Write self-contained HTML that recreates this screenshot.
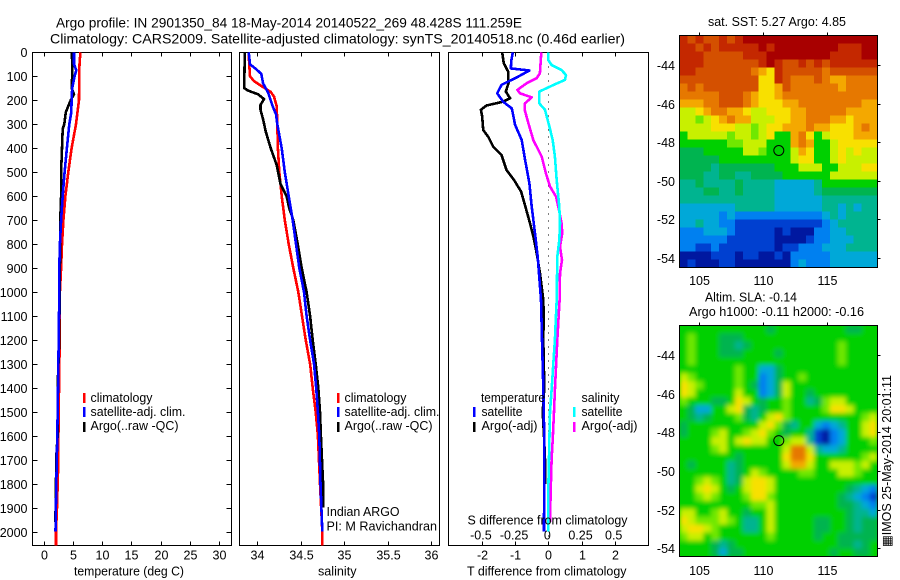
<!DOCTYPE html>
<html><head><meta charset="utf-8"><title>Argo profile</title>
<style>
html,body{margin:0;padding:0;background:#fff}
svg{display:block}
text{font-family:"Liberation Sans",sans-serif;font-size:12.5px;fill:#000}
</style></head><body>
<svg id="chart" width="900" height="580" viewBox="0 0 900 580" xmlns="http://www.w3.org/2000/svg">
<defs>
<filter id="smooth" x="-5%" y="-5%" width="110%" height="110%"><feGaussianBlur stdDeviation="2.5"/></filter>
<clipPath id="clip-sla"><rect x="679.5" y="325.5" width="198" height="231"/></clipPath>
<clipPath id="clip-sst"><rect x="679.5" y="35.5" width="198" height="232"/></clipPath>
</defs>
<rect width="900" height="580" fill="#fff"/>
<text x="56" y="27.5" style="font-size:14px" textLength="466" lengthAdjust="spacingAndGlyphs">Argo profile: IN 2901350_84 18-May-2014 20140522_269 48.428S 111.259E</text>
<text x="50" y="43.5" style="font-size:14px" textLength="575" lengthAdjust="spacingAndGlyphs">Climatology: CARS2009. Satellite-adjusted climatology: synTS_20140518.nc (0.46d earlier)</text>
<g id="plots"></g>
<text x="74" y="575.5" textLength="110" lengthAdjust="spacingAndGlyphs">temperature (deg C)</text>
<text x="318" y="575.5" textLength="38.5" lengthAdjust="spacingAndGlyphs">salinity</text>
<text x="467" y="575.5" textLength="159.5" lengthAdjust="spacingAndGlyphs">T difference from climatology</text>
<text x="467.5" y="524.5" textLength="160" lengthAdjust="spacingAndGlyphs">S difference from climatology</text>
<g>
<rect x="83" y="393" width="2.5" height="10" fill="#f00" shape-rendering="crispEdges"/>
<text x="90.5" y="402" textLength="62" lengthAdjust="spacingAndGlyphs">climatology</text>
<rect x="83" y="407" width="2.5" height="10" fill="#00f" shape-rendering="crispEdges"/>
<text x="90.5" y="416" textLength="95" lengthAdjust="spacingAndGlyphs">satellite-adj. clim.</text>
<rect x="83" y="422" width="2.5" height="10" fill="#000" shape-rendering="crispEdges"/>
<text x="90.5" y="430" textLength="88" lengthAdjust="spacingAndGlyphs">Argo(..raw -QC)</text>
</g>
<g>
<rect x="337" y="393" width="2.5" height="10" fill="#f00" shape-rendering="crispEdges"/>
<text x="344.5" y="402" textLength="62" lengthAdjust="spacingAndGlyphs">climatology</text>
<rect x="337" y="407" width="2.5" height="10" fill="#00f" shape-rendering="crispEdges"/>
<text x="344.5" y="416" textLength="95" lengthAdjust="spacingAndGlyphs">satellite-adj. clim.</text>
<rect x="337" y="422" width="2.5" height="10" fill="#000" shape-rendering="crispEdges"/>
<text x="344.5" y="430" textLength="88" lengthAdjust="spacingAndGlyphs">Argo(..raw -QC)</text>
<text x="326.5" y="516" textLength="73" lengthAdjust="spacingAndGlyphs">Indian ARGO</text>
<text x="326.5" y="530.5" textLength="110.5" lengthAdjust="spacingAndGlyphs">PI: M Ravichandran</text>
</g>
<g>
<text x="481" y="402" textLength="64" lengthAdjust="spacingAndGlyphs">temperature</text>
<rect x="473" y="407" width="2.5" height="10" fill="#00f" shape-rendering="crispEdges"/>
<text x="481.5" y="416" textLength="41" lengthAdjust="spacingAndGlyphs">satellite</text>
<rect x="473" y="422" width="2.5" height="10" fill="#000" shape-rendering="crispEdges"/>
<text x="481.5" y="430" textLength="56" lengthAdjust="spacingAndGlyphs">Argo(-adj)</text>
<text x="581.5" y="402" textLength="38" lengthAdjust="spacingAndGlyphs">salinity</text>
<rect x="573" y="407" width="2.5" height="10" fill="#0ff" shape-rendering="crispEdges"/>
<text x="581.5" y="416" textLength="41" lengthAdjust="spacingAndGlyphs">satellite</text>
<rect x="573" y="422" width="2.5" height="10" fill="#f0f" shape-rendering="crispEdges"/>
<text x="581.5" y="430" textLength="56" lengthAdjust="spacingAndGlyphs">Argo(-adj)</text>
</g>
<text x="708" y="26" textLength="138" lengthAdjust="spacingAndGlyphs">sat. SST: 5.27  Argo: 4.85</text>
<text x="705" y="301.5" textLength="92" lengthAdjust="spacingAndGlyphs">Altim. SLA: -0.14</text>
<text x="689" y="316" textLength="175" lengthAdjust="spacingAndGlyphs">Argo h1000: -0.11 h2000: -0.16</text>
<text transform="translate(891 547) rotate(-90)" x="0" y="0" textLength="172" lengthAdjust="spacingAndGlyphs">▦IMOS 25-May-2014 20:01:11</text>
</svg>
<script>
// ---- shared scale parameters ----
var depthTicks = [0,100,200,300,400,500,600,700,800,900,1000,1100,1200,1300,1400,1500,1600,1700,1800,1900,2000];
var tempTicks = [0,5,10,15,20,25,30];
var salTicks = [34,34.5,35,35.5,36];
var salTickLabels = ['34','34.5','35','35.5','36'];
var tDiffTicks = [-2,-1,0,1,2];
var sDiffTicks = [-0.5,-0.25,0,0.25,0.5];
var sDiffTickLabels = ['-0.5','-0.25','0','0.25','0.5'];
var lonTicks = [105,110,115];
var latTicks = [-44,-46,-48,-50,-52,-54];

// ---- temperature panel ----
var tempClimDepth = [0,50,100,200,250,300,400,500,600,700,800,900,1000,1200,1500,1750,1900,2000,2058];
var tempClimValue = [6.3,6.15,6.1,6.05,5.8,5.55,4.8,4.24,3.73,3.4,3.16,3,2.8,2.76,2.6,2.47,2.3,2.13,2.13];
var tempSatDepth = [0,50,75,100,150,200,250,300,350,400,500,600,700,800,900,1000,1200,1500,1700,1850,2000];
var tempSatValue = [5.2,5.2,5.6,5.3,4.9,4.8,4.75,4.4,4.2,4,3.6,3.27,3,2.8,2.7,2.7,2.6,2.43,2.27,2.15,2.05];
var tempArgoDepth = [0,100,150,175,200,220,250,300,320,400,500,600,650,700,800,1000,1200,1400,1600,1680,1930,1960];
var tempArgoValue = [4.86,4.9,4.8,5.2,4.64,4.3,3.8,3.55,3.27,3.16,3,3,2.93,2.85,2.85,2.75,2.7,2.4,2.4,2.2,2.05,2.05];

// ---- salinity panel ----
var salClimDepth = [0,50,100,120,145,165,185,225,300,400,500,600,700,800,900,1000,1200,1300,1400,1500,1600,1800,2000,2058];
var salClimValue = [33.905,33.91,33.92,33.966,34.07,34.157,34.195,34.226,34.233,34.24,34.256,34.284,34.32,34.364,34.417,34.475,34.56,34.61,34.64,34.675,34.7,34.724,34.75,34.75];
var salSatDepth = [0,50,70,90,130,170,225,260,300,400,500,600,700,800,900,1000,1100,1200,1300,1400,1500,1600,1800,2000];
var salSatValue = [33.905,33.92,33.99,34.05,34.07,34.13,34.18,34.22,34.233,34.284,34.32,34.364,34.41,34.448,34.486,34.54,34.57,34.61,34.655,34.68,34.7,34.716,34.73,34.75];
var salArgoDepth = [0,100,150,160,175,195,220,240,280,330,400,470,550,600,650,700,800,900,1000,1100,1200,1300,1400,1500,1600,1800,1900];
var salArgoValue = [33.86,33.855,33.855,33.9,34.01,34.08,34.04,34.04,34.07,34.1,34.157,34.226,34.27,34.34,34.37,34.417,34.468,34.514,34.57,34.61,34.64,34.675,34.705,34.724,34.735,34.76,34.76];

// ---- difference panel ----
var tDiffArgoDepth = [0,46,80,129,164,192,206,222,240,268,324,352,394,428,491,533,581,644,713,769,839,922,1033,1100,1200,1400,1500,1600,1700,1800];
var tDiffArgoValue = [-1.39,-1.34,-1.21,-1.2,-1.28,-1.15,-1.36,-1.86,-2.03,-1.99,-1.96,-1.81,-1.66,-1.41,-1.26,-1.03,-0.82,-0.69,-0.55,-0.45,-0.35,-0.25,-0.15,-0.14,-0.15,-0.12,-0.17,-0.13,-0.1,-0.1];
var tDiffSatDepth = [0,32,67,76,101,136,171,206,234,254,303,366,449,547,644,755,853,1033,1200,1400,1500,1600,2000];
var tDiffSatValue = [-1.07,-1.11,-1.13,-0.57,-0.9,-1.41,-1.54,-1.36,-1.1,-1.07,-1,-0.8,-0.7,-0.57,-0.5,-0.4,-0.32,-0.22,-0.19,-0.15,-0.14,-0.12,-0.13];
var sDiffArgoDepth = [0,88,108,129,157,171,188,213,240,296,366,435,505,560,602,644,713,755,811,866,922,1033,1200,1409,1500,1617,1700,1826,1960];
var sDiffArgoValue = [-0.053,-0.063,-0.088,-0.163,-0.233,-0.213,-0.125,-0.176,-0.178,-0.15,-0.113,-0.05,-0.018,0.013,0.058,0.075,0.1,0.105,0.088,0.103,0.088,0.085,0.068,0.05,0.043,0.033,0.025,0.018,0.013];
var sDiffSatDepth = [0,32,53,74,95,115,136,164,213,240,310,366,435,533,644,713,783,853,1033,1200,1300,1409,1500,1617,1826,2000];
var sDiffSatValue = [0,0,0.025,0.1,0.133,0.125,0.04,-0.068,-0.068,-0.025,0.008,0.033,0.05,0.063,0.083,0.088,0.083,0.068,0.063,0.05,0.038,0.025,0.013,0.008,0,0];

// ---- maps: each row is north to south, one letter per cell (index into colour levels) ----
var mapColorLevels = ['#a80000','#c42800','#d45000','#e67800','#f4a800','#f8e000','#c8f000','#70e800','#00d000','#00b450','#00b490','#00a8d8','#0080f0','#0040d0','#0018a0'];
var levelLetters = 'abcdefghijklmno';
var sstRows = [
'bcbccbcbaaaaaaaaaaaaaaaaa',
'bbcbcbbbbbabaaaaaaaabbbaa',
'bbbcccccbbbaaaaaaaabbbbaa',
'bbbcccccccbabccbcbcbbbbbb',
'bbcccccccdefbcccccdcccccc',
'ccccccccccffbcdddcdeedddd',
'dcdcccccccffecddddddedddd',
'dddddcccdeffedddddddddddd',
'eeeddcccdefffeeddddddddee',
'ggfeddeefggfffeedddddeeee',
'gghgfedeegggffeedddeefeee',
'ggggfffgghgffeeedeefffede',
'iggggghgghgfiiedfigfffeee',
'iiiiiihhgggiiiedeiigfffff',
'jjjiiiiigghiiigefiigfgfgg',
'jjjjjiiiiiiiiigffiigfgggg',
'jjjjkjjjjjjjiiigggiigggff',
'jjjkkjjkkjjjjiiiiiigggggg',
'kkjkkkkjkkkklllllkiiiiiii',
'kkkjjkkjkkkklllllkjjjjjjj',
'kkkkkkkkkkkkllllllkkkkkkk',
'lllllllkkkkkllllllkklklkk',
'lllllmlmmmmmmmmmmmlklkkkk',
'llkllmmnnnnnnnnnnnmlkkkkk',
'mmmlllmnnnnnonooommllkkkk',
'mmmmmmnnnnnnoooonmmlllkkk',
'mmnnmnnnnnnnonnmmmlllkkkk',
'oooonnnonnoonommmmmllllll',
'onooonnooooooomlmmmllllll'
];
var slaRows = [
'iiiiiiiiiiijiiiiiiiiijjii',
'ihiiijjjiiiiiiiiiiiiiiiii',
'ihiiijjkjiiiiiiiiiiihiiii',
'ihiiijjjiiiijiiiiiiihiiii',
'ihiiiiiiiiiiiiiiiiiihiiii',
'iiiiiiihiilljiiiiiiiiiiii',
'ghiiiiihiimljiihiiiiiiiii',
'fghiiiihijmljgiiiiiiiiiii',
'fgiiiiigiimljgiijiiiiiiii',
'hiiijjifgijiihiikjhggiiii',
'ijlliigfjkjiihiiiihffgiii',
'ijkjiiihjkigfhiiiiiiiiihg',
'jiiiiiiiiigfhjkiilmlkiigf',
'jiiihgiihgfhijiiknomliigf',
'iiiiggigfggiihggknomliiih',
'iiiihgiiiiiiigddgkllkiiii',
'iiiiiiijiiiiifddfiiiiiihg',
'ijiiiikjiiiiigeegiiggghgi',
'iiiiiikjighiiiihhiiigghii',
'iihghikjgffgiiiiiiiiiiiii',
'iigfgijigffgiiiiiiiiijklm',
'iihghiiihffhiiiiiiiijklmn',
'iiiiiiiiihhgiiiiiiiijjklm',
'ggiihgiijiigiiiiiiiiijkkl',
'fghhhghikkigiiiiijjiijkjj',
'gffghiiikkigiiiiijjiijkjj',
'hggihiiiiiihiiiiijiijjjjj',
'iiiijkjiiiiiiiiiiiiijjkji',
'iiiijljjiiiiiiiiiiijiijji'
];
var argoLon = [111.259];
var argoLat = [-48.428];

// ---- axis functions ----
function yDepth(d){ return 52.3 + d*0.2397; }
function xTemp(t){ return 43.5 + t*5.86; }
function xSal(s){ return 257 + (s-34)*87; }
function xTDiff(t){ return 548.3 + t*33.2; }
function xSDiff(s){ return 548.3 + s*132.8; }
function xLon(l){ return 698.7 + (l-105)*12.8; }
function ySst(l){ return 65 + (-44-l)*19.3; }
function ySla(l){ return 355 + (-44-l)*19.33; }

var SVGNS = 'http://www.w3.org/2000/svg';
var root = document.getElementById('plots');
function el(tag, attrs, parent){
  var e = document.createElementNS(SVGNS, tag);
  for (var k in attrs) e.setAttribute(k, attrs[k]);
  (parent||root).appendChild(e);
  return e;
}
function label(str, x, y, anchor, parent){
  var t = el('text', {x:x, y:y, 'text-anchor':anchor||'middle'}, parent);
  t.textContent = str;
  
  
  return t;
}
function hvLine(x1,y1,x2,y2,parent){
  var l = el('line', {x1:x1,y1:y1,x2:x2,y2:y2,stroke:'#000','stroke-width':1,'shape-rendering':'crispEdges'}, parent);
  
  
  return l;
}
function series(name, depths, values, xf, color, width, parent){
  var pts = [];
  for (var i=0;i<depths.length;i++) pts.push(xf(values[i]).toFixed(1)+','+yDepth(depths[i]).toFixed(1));
  var p = el('polyline', {points:pts.join(' '), fill:'none', stroke:color, 'stroke-width':width, 'shape-rendering':'crispEdges','stroke-linejoin':'round'}, parent);
  
  
}
function panel(name, x0, x1, ticks, xf, labels, depthSideTicks){
  var g = el('g', {});
  
  
  var top = 52.5, bot = 545.5;
  var frame = el('rect', {x:x0,y:top,width:x1-x0,height:bot-top,fill:'none',stroke:'#000','stroke-width':1,'shape-rendering':'crispEdges'}, g);
  
  
  ticks.forEach(function(v,i){
    var x = Math.round(xf(v))+0.5;
    hvLine(x,top,x,top+4,g);
    hvLine(x,bot,x,bot-4,g);
    label(labels[i], x, 559.5, 'middle', g);
  });
  if (depthSideTicks){
    depthTicks.forEach(function(d){
      var y = Math.round(yDepth(d))+0.5;
      hvLine(x0,y,x0+5,y,g);
      hvLine(x1,y,x1-5,y,g);
      label(String(d), 27.5, y+4.5, 'end', g);
    });
  }
  return g;
}

var LINE_W = 2.6;
// temperature panel
var p1 = panel('temperature-panel', 32.5, 231.5, tempTicks, xTemp, tempTicks.map(String), true);
series('temperature-climatology-line', tempClimDepth, tempClimValue, xTemp, '#f00', LINE_W, p1);
series('temperature-argo-line', tempArgoDepth, tempArgoValue, xTemp, '#000', LINE_W, p1);
series('temperature-satellite-line', tempSatDepth, tempSatValue, xTemp, '#00f', LINE_W, p1);

// salinity panel
var p2 = panel('salinity-panel', 239.5, 439.5, salTicks, xSal, salTickLabels, false);
series('salinity-climatology-line', salClimDepth, salClimValue, xSal, '#f00', LINE_W, p2);
series('salinity-argo-line', salArgoDepth, salArgoValue, xSal, '#000', LINE_W, p2);
series('salinity-satellite-line', salSatDepth, salSatValue, xSal, '#00f', LINE_W, p2);

// difference panel
var p3 = panel('difference-panel', 448.5, 648.5, tDiffTicks, xTDiff, tDiffTicks.map(String), false);
sDiffTicks.forEach(function(v,i){
  label(sDiffTickLabels[i], xSDiff(v)-1, 539.5, 'middle', p3);
});
var zero = el('line', {x1:548.5,y1:52.5,x2:548.5,y2:545.5,stroke:'#000','stroke-width':1,'stroke-dasharray':'1 6','shape-rendering':'crispEdges'}, p3);


series('t-diff-argo-line', tDiffArgoDepth, tDiffArgoValue, xTDiff, '#000', LINE_W, p3);
series('t-diff-satellite-line', tDiffSatDepth, tDiffSatValue, xTDiff, '#00f', LINE_W, p3);
series('s-diff-argo-line', sDiffArgoDepth, sDiffArgoValue, xSDiff, '#f0f', LINE_W, p3);
series('s-diff-satellite-line', sDiffSatDepth, sDiffSatValue, xSDiff, '#0ff', LINE_W, p3);

// maps
function heatmap(name, rows, yf, top, bottom, clip, blur, labelY){
  var g = el('g', {});
  
  
  var lon0 = 105 + (679.5-698.7)/12.8, lon1 = 105 + (877.5-698.7)/12.8;
  var latTop = -44 - (top-yf(-44))/ (yf(-45)-yf(-44));
  var latBot = -44 - (bottom-yf(-44))/ (yf(-45)-yf(-44));
  var clipG = el('g', {'clip-path':'url(#'+clip+')'}, g);
  var bg = el('rect', {x:xLon(lon0),y:top,width:xLon(lon1)-xLon(lon0),height:bottom-top,fill:'#00d000'}, clipG);
  
  
  var inner = el('g', blur ? {filter:'url(#smooth)'} : {'shape-rendering':'crispEdges'}, clipG);
  var nR = rows.length;
  rows.forEach(function(row, r){
    var nC = 25;
    for (var c=0;c<nC;c++){
      var lonA = lon0 + (lon1-lon0)*c/nC, lonB = lon0 + (lon1-lon0)*(c+1)/nC;
      var latA = latTop + (latBot-latTop)*r/nR, latB = latTop + (latBot-latTop)*(r+1)/nR;
      var x = xLon(lonA), y = yf(latA);
      var cell = el('rect', {x:x.toFixed(2), y:y.toFixed(2), width:(xLon(lonB)-x+0.4).toFixed(2), height:(yf(latB)-y+0.4).toFixed(2), fill:mapColorLevels[levelLetters.indexOf(row.charAt(c))]}, inner);
      
      
    }
  });
  var frame = el('rect', {x:679.5,y:top,width:198,height:bottom-top,fill:'none',stroke:'#000','stroke-width':1,'shape-rendering':'crispEdges'}, g);
  
  
  lonTicks.forEach(function(l){
    var x = Math.round(xLon(l))+0.5;
    hvLine(x,top,x,top-3,g);
    label(String(l), x, labelY, 'middle', g);
  });
  latTicks.forEach(function(l){
    var y = Math.round(yf(l))+0.5;
    hvLine(877.5,y,880.5,y,g);
    label(String(l), 675, y+4.5, 'end', g);
  });
  var m = el('circle', {cx:xLon(argoLon[0]).toFixed(1), cy:yf(argoLat[0]).toFixed(1), r:5, fill:'none', stroke:'#000','stroke-width':1}, g);
  
  
}
heatmap('sst-map', sstRows, ySst, 35.5, 267.5, 'clip-sst', false, 285);
heatmap('sla-map', slaRows, ySla, 325.5, 556.5, 'clip-sla', true, 575);
</script>
</body></html>
